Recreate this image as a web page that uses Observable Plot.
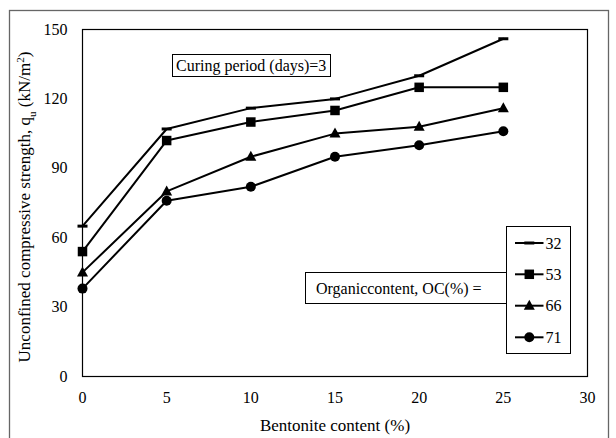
<!DOCTYPE html>
<html>
<head>
<meta charset="utf-8">
<script src="https://cdn.jsdelivr.net/npm/d3@7"></script>
<script src="https://cdn.jsdelivr.net/npm/@observablehq/plot@0.6"></script>
<style>
  body { margin: 0; background: #fff; }
  #chart { width: 616px; height: 438px; overflow: hidden; }
</style>
</head>
<body>
<div id="chart"></div>
<script>
// Bentonite content (%) on the x axis
const bentonite = [0, 5, 10, 15, 20, 25];
// Unconfined compressive strength qu (kN/m²) for each organic content
const oc32 = [65, 107, 116, 120, 130, 146];
const oc53 = [54, 102, 110, 115, 125, 125];
const oc66 = [45, 80, 95, 105, 108, 116];
const oc71 = [38, 76, 82, 95, 100, 106];
const organicContents = ["32", "53", "66", "71"];
const xTicks = [0, 5, 10, 15, 20, 25, 30];
const yTicks = [0, 30, 60, 90, 120, 150];

const seriesValues = [oc32, oc53, oc66, oc71];
const rows = organicContents.flatMap((oc, i) =>
  bentonite.map((b, j) => ({ oc, b, q: seriesValues[i][j] }))
);

// Fixed-size marker shapes: dash, square, triangle, circle
const dashSym = { draw(ctx) { ctx.rect(-5, -1.5, 10, 3); } };
const squareSym = { draw(ctx) { ctx.rect(-4.75, -4.75, 9.5, 9.5); } };
const triangleSym = { draw(ctx) { ctx.moveTo(0, -6); ctx.lineTo(5.5, 4); ctx.lineTo(-5.5, 4); ctx.closePath(); } };
const circleSym = { draw(ctx) { ctx.moveTo(5, 0); ctx.arc(0, 0, 5, 0, 2 * Math.PI); ctx.closePath(); } };
const symbols = [dashSym, squareSym, triangleSym, circleSym];

const FONT = "Liberation Serif, Times New Roman, serif";

const plot = Plot.plot({
  width: 616,
  height: 438,
  marginLeft: 82,
  marginRight: 29,
  marginTop: 29,
  marginBottom: 62,
  style: { fontFamily: FONT, fontSize: "16px", color: "#000", background: "transparent" },
  x: { domain: [0, 30] },
  y: { domain: [0, 150] },
  marks: [
    Plot.frame({ stroke: "#000", strokeWidth: 1.2 }),
    Plot.axisX({ ticks: xTicks, tickSize: 0, tickPadding: 15, label: null, fontFamily: FONT, fontSize: 16 }),
    Plot.axisY({ ticks: yTicks, tickSize: 0, tickPadding: 15, label: null, fontFamily: FONT, fontSize: 16 }),
    Plot.line(rows, { x: "b", y: "q", z: "oc", stroke: "#000", strokeWidth: 2 }),
    ...organicContents.map((oc, i) =>
      Plot.dot(rows.filter(d => d.oc === oc), { x: "b", y: "q", symbol: symbols[i], fill: "#000", stroke: "none" })
    ),
    Plot.text(["Bentonite content (%)"], { frameAnchor: "bottom", dy: 54, fontSize: 17, fontFamily: FONT })
  ]
});
document.getElementById("chart").appendChild(plot);

const svg = d3.select(plot);

// Outer chart border
svg.insert("rect", ":first-child")
  .attr("x", 9.5).attr("y", 10.5).attr("width", 599).attr("height", 440)
  .attr("fill", "none").attr("stroke", "#666").attr("stroke-width", 1.3);

// Y axis title with subscript and superscript
const yt = svg.append("text")
  .attr("transform", "translate(30,207) rotate(-90)")
  .attr("text-anchor", "middle")
  .attr("font-family", FONT).attr("font-size", 17).attr("fill", "#000");
yt.append("tspan").text("Unconfined compressive strength, q");
yt.append("tspan").attr("font-size", 11).attr("baseline-shift", "sub").text("u");
yt.append("tspan").text(" (kN/m");
yt.append("tspan").attr("font-size", 11).attr("baseline-shift", "super").text("2");
yt.append("tspan").text(")");

// Boxed annotation text
function boxedText(text, x, y, box) {
  svg.append("rect")
    .attr("x", box[0]).attr("y", box[1]).attr("width", box[2] - box[0]).attr("height", box[3] - box[1])
    .attr("fill", "#fff").attr("stroke", "#000").attr("stroke-width", 1);
  svg.append("text")
    .attr("x", x).attr("y", y)
    .attr("text-anchor", "start")
    .attr("font-family", FONT).attr("font-size", 16).attr("fill", "#000")
    .text(text);
}
boxedText("Curing period (days)=3", 176, 71, [172.5, 54.5, 330.5, 76.5]);
boxedText("Organiccontent, OC(%) =", 316, 294, [305.5, 272.5, 506.5, 303.5]);

// Legend box
const legend = svg.append("g");
legend.append("rect")
  .attr("x", 506.5).attr("y", 226.5).attr("width", 64).attr("height", 127)
  .attr("fill", "#fff").attr("stroke", "#000").attr("stroke-width", 1);
const legendY = [243, 274.3, 305.7, 337.3];
organicContents.forEach((oc, i) => {
  const cy = legendY[i];
  legend.append("line")
    .attr("x1", 515).attr("x2", 543.5).attr("y1", cy).attr("y2", cy)
    .attr("stroke", "#000").attr("stroke-width", 2);
  legend.append("path")
    .attr("transform", `translate(529.3,${cy})`)
    .attr("d", d3.symbol(symbols[i])())
    .attr("fill", "#000");
  legend.append("text")
    .attr("x", 545.5).attr("y", cy + 5.5)
    .attr("text-anchor", "start")
    .attr("font-family", FONT).attr("font-size", 16).attr("fill", "#000")
    .text(oc);
});
</script>
</body>
</html>
